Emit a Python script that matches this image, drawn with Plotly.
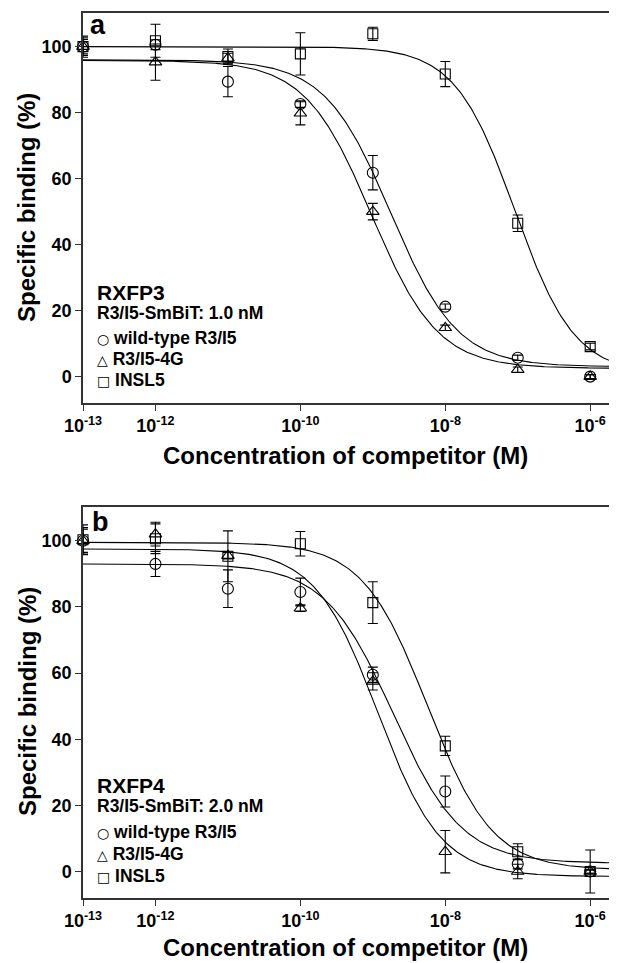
import numpy as np
import plotly.graph_objects as go

# ---------------- data (log10 molar concentration of competitor) ----------------
log_conc = [-13, -12, -11, -10, -9, -8, -7, -6]

# Panel a: RXFP3
a_wt = [100, 100.6, 89.4, 82.6, 61.8, 21.2, 5.7, 0]
a_wt_err = [3.2, 1.5, 4.6, 1.0, 5.2, 0.8, 0.8, 0.6]
a_4g = [100, 95.3, 96.5, 79.8, 50.0, 14.8, 2.1, 0]
a_4g_err = [2.7, 5.5, 1.5, 3.5, 2.5, 0.8, 0.8, 0.6]
a_insl5 = [100, 101.8, 97.0, 97.8, 103.9, 91.7, 46.5, 9.1]
a_insl5_err = [2.2, 5.0, 2.3, 6.4, 2.0, 3.8, 2.5, 1.0]

# fitted sigmoid parameters: top, bottom, logIC50, Hill slope
a_fit_wt = [96.0, 3.0, -8.75, 0.95]
a_fit_4g = [95.8, 2.5, -9.02, 0.95]
a_fit_insl5 = [100.0, 0.8, -7.04, 1.05]

# Panel b: RXFP4
b_wt = [100, 93.0, 85.5, 84.5, 59.5, 24.2, 2.3, 0]
b_wt_err = [3.5, 3.8, 5.7, 4.2, 2.3, 4.7, 1.5, 0.5]
b_4g = [100, 102.0, 95.5, 79.6, 57.5, 6.0, 0, 0]
b_4g_err = [4.0, 3.6, 1.0, 1.0, 2.6, 6.4, 2.2, 0.5]
b_insl5 = [100.3, 100.6, 95.3, 99.1, 81.3, 38.0, 6.0, 0]
b_insl5_err = [4.5, 4.5, 7.7, 3.7, 6.3, 2.9, 2.4, 6.5]

b_fit_wt = [93.0, 2.5, -8.72, 0.92]
b_fit_4g = [97.5, -1.5, -8.93, 1.0]
b_fit_insl5 = [99.5, 0.5, -8.245, 0.97]

tick_vals = [1e-13, 1e-12, 1e-10, 1e-8, 1e-6]
tick_text = ["10<sup>-13</sup>", "10<sup>-12</sup>", "10<sup>-10</sup>",
             "10<sup>-8</sup>", "10<sup>-6</sup>"]
y_ticks = [0, 20, 40, 60, 80, 100]

X_RANGE = [-13, -5.63]
Y_RANGE = [-8, 110.2]

FONT = "Liberation Sans Narrow, Arial Narrow, Liberation Sans, Arial, sans-serif"


def sigmoid(params, lx):
    top, bottom, logic50, hill = params
    return bottom + (top - bottom) / (1 + 10 ** (hill * (lx - logic50)))


fig = go.Figure()

curve_lx = np.linspace(X_RANGE[0], X_RANGE[1], 400)
conc = [10.0 ** v for v in log_conc]

panels = [
    ("x", "y", [(a_wt, a_wt_err, "circle-open", 11), (a_4g, a_4g_err, "triangle-up-open", 11),
                (a_insl5, a_insl5_err, "square-open", 10)],
     [a_fit_wt, a_fit_4g, a_fit_insl5]),
    ("x2", "y2", [(b_wt, b_wt_err, "circle-open", 11), (b_4g, b_4g_err, "triangle-up-open", 11),
                  (b_insl5, b_insl5_err, "square-open", 10)],
     [b_fit_wt, b_fit_4g, b_fit_insl5]),
]

for xa, ya, series, fits in panels:
    for p in fits:
        fig.add_trace(go.Scatter(
            x=10.0 ** curve_lx, y=sigmoid(p, curve_lx), mode="lines",
            line=dict(color="black", width=1.1), xaxis=xa, yaxis=ya,
            showlegend=False, hoverinfo="skip"))
    for vals, errs, sym, size in series:
        fig.add_trace(go.Scatter(
            x=conc, y=vals, mode="markers",
            marker=dict(symbol=sym, size=size, color="black", line=dict(width=1.1, color="black")),
            error_y=dict(type="data", array=errs, visible=True, color="black",
                         thickness=1.1, width=5),
            xaxis=xa, yaxis=ya, showlegend=False, cliponaxis=False))

axis_common_x = dict(
    type="log", range=X_RANGE, tickvals=tick_vals, ticktext=tick_text,
    ticks="outside", ticklen=6, tickwidth=1.2, tickcolor="#333",
    showline=True, linecolor="#333", linewidth=1.5, mirror=True,
    showgrid=False, zeroline=False,
    tickfont=dict(family=FONT, size=18, color="black", weight="bold"),
)
axis_common_y = dict(
    range=Y_RANGE, tickvals=y_ticks, ticks="outside", ticklen=6, tickwidth=1.2,
    tickcolor="#333", showline=True, linecolor="#333", linewidth=1.5,
    showgrid=False, zeroline=False,
    tickfont=dict(family=FONT, size=18, color="black", weight="bold"),
)

TOP_DOM = [0.5593, 1.0]
BOT_DOM = [0.0, 0.4418]

# the page body adds an 8 px offset; the figure is sized to fill the rest of the window
FIG_W, FIG_H = 609, 955
ML, MR, MT, MB = 75, 0, 5, 65

fig.update_layout(
    width=FIG_W, height=FIG_H,
    margin=dict(l=ML, r=MR, t=MT, b=MB),
    paper_bgcolor="white", plot_bgcolor="white",
    xaxis=dict(axis_common_x, domain=[0, 1], anchor="y"),
    yaxis=dict(axis_common_y, domain=TOP_DOM, anchor="x"),
    xaxis2=dict(axis_common_x, domain=[0, 1], anchor="y2"),
    yaxis2=dict(axis_common_y, domain=BOT_DOM, anchor="x2"),
)

OFF = 8
PW = FIG_W - ML - MR
PH = FIG_H - MT - MB


def px(xp):
    return (xp - OFF - ML) / PW


def py(yp):
    return (MT + PH - (yp - OFF)) / PH


ann = []


def add_text(text, xp, yp, size, xanchor="left", yanchor="middle", angle=0):
    ann.append(dict(text=text, x=px(xp), y=py(yp), xref="paper", yref="paper",
                    xanchor=xanchor, yanchor=yanchor, showarrow=False, textangle=angle,
                    font=dict(family=FONT, size=size, color="black", weight="bold")))


def sym(ch):
    return ('<span style="font-family:DejaVu Sans;font-weight:normal;font-size:14px">'
            + ch + '</span> ')


# panel letters
add_text("a", 88, 25, 27)
add_text("b", 90, 522, 27)

# axis titles
add_text("Concentration of competitor (M)", 345, 455, 24, xanchor="center")
add_text("Concentration of competitor (M)", 345, 947, 24, xanchor="center")
add_text("Specific binding (%)", 27, 208, 24, xanchor="center", angle=-90)
add_text("Specific binding (%)", 27, 702, 24, xanchor="center", angle=-90)

# legend blocks
leg_a = [("RXFP3", 292, 21), ("R3/I5-SmBiT: 1.0 nM", 313, 17.5),
         (sym("○") + "wild-type R3/I5", 338, 17.5), (sym("△") + "R3/I5-4G", 359, 17.5),
         (sym("□") + "INSL5", 380, 17.5)]
leg_b = [("RXFP4", 785, 21), ("R3/I5-SmBiT: 2.0 nM", 806, 17.5),
         (sym("○") + "wild-type R3/I5", 832, 17.5), (sym("△") + "R3/I5-4G", 854, 17.5),
         (sym("□") + "INSL5", 876, 17.5)]
for t, yp, s in leg_a + leg_b:
    add_text(t, 95, yp, s)

fig.update_layout(annotations=ann)

fig.write_html("out.html")
